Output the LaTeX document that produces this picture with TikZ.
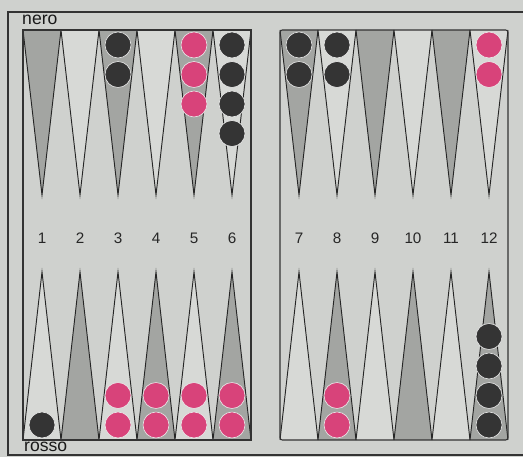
\documentclass[tikz,border=0pt]{standalone}
\usepackage{fontspec}
\setmainfont{Liberation Sans}
\usepackage{xcolor}
\definecolor{boardbg}{HTML}{CFD1CE}
\definecolor{pointdark}{HTML}{A3A5A2}
\definecolor{pointlight}{HTML}{D7D9D6}
\definecolor{rossochk}{HTML}{D8437A}
\definecolor{nerochk}{HTML}{343434}

\begin{document}
\begin{tikzpicture}[x=0.03cm, y=-0.03cm,
  frame/.style={draw=black!80, line width=0.9pt},
  ptdark/.style={draw=black!85, fill=pointdark, line width=0.8pt},
  ptlight/.style={draw=black!85, fill=pointlight, line width=0.8pt},
  chk/.style={draw=white!85!gray, line width=0.5pt},
  lbl/.style={font=\fontsize{13}{15}\selectfont, text=black!85, inner sep=0pt},
  side/.style={font=\fontsize{15}{17}\selectfont, text=black!90, inner sep=0pt}]

\useasboundingbox (0,0) rectangle (523,457);
\fill[boardbg] (0,0) rectangle (523,457);

% outer frame and the two halves
\draw[frame] (530,12) -- (8,12) -- (8,455) -- (530,455);
\node[side, anchor=base west] (nero) at (22,24.5) {nero};
\node[side, anchor=base west] (rosso) at (24,451.5) {rosso};

% points 1-12, top row and bottom row
\foreach \p in {1,...,12} {
  \pgfmathsetmacro{\xl}{\p<7 ? 23+(\p-1)*38 : 280+(\p-7)*38}
  \pgfmathsetmacro{\xm}{\xl+19}
  \pgfmathsetmacro{\xr}{\xl+38}
  \pgfmathtruncatemacro{\odd}{mod(\p,2)}
  \ifnum\odd=1
    \draw[ptdark] (\xl,30) -- (\xm,195) -- (\xr,30);
    \draw[ptlight] (\xl,440) -- (\xm,272) -- (\xr,440);
  \else
    \draw[ptlight] (\xl,30) -- (\xm,195) -- (\xr,30);
    \draw[ptdark] (\xl,440) -- (\xm,272) -- (\xr,440);
  \fi
  \node[lbl] (num\p) at (\xm,238) {\p};
}

\draw[frame] (23,30) rectangle (251,440);
\draw[frame, rounded corners=2pt] (280,30) rectangle (508,440);

% checkers on the top row: point/colour/count
\foreach \p/\c/\n in {3/nerochk/2, 5/rossochk/3, 6/nerochk/4,
                      7/nerochk/2, 8/nerochk/2, 12/rossochk/2} {
  \pgfmathsetmacro{\xm}{\p<7 ? 23+(\p-0.5)*38 : 280+(\p-6.5)*38}
  \foreach \k in {1,...,\n}
    \filldraw[chk, fill=\c] (\xm,{45+(\k-1)*29.5}) circle (13);
}

% checkers on the bottom row
\foreach \p/\c/\n in {1/nerochk/1, 3/rossochk/2, 4/rossochk/2, 5/rossochk/2,
                      6/rossochk/2, 8/rossochk/2, 12/nerochk/4} {
  \pgfmathsetmacro{\xm}{\p<7 ? 23+(\p-0.5)*38 : 280+(\p-6.5)*38}
  \foreach \k in {1,...,\n}
    \filldraw[chk, fill=\c] (\xm,{425-(\k-1)*29.5}) circle (13);
}

\end{tikzpicture}
\end{document}
